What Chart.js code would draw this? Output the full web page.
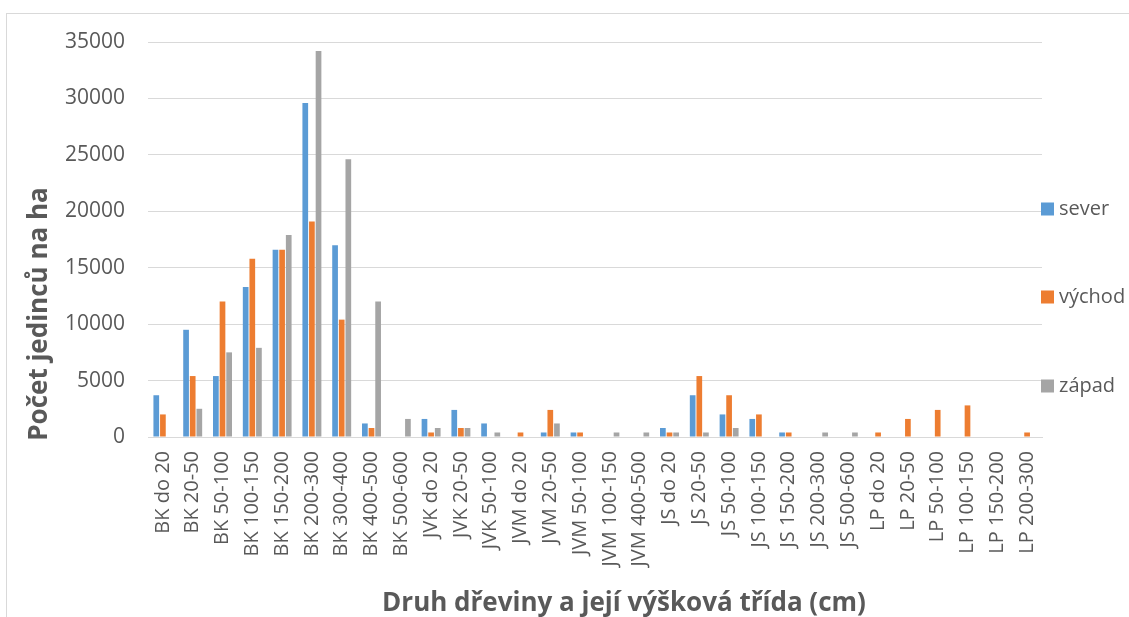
<!DOCTYPE html>
<html>
<head>
<meta charset="utf-8">
<script src="https://cdn.jsdelivr.net/npm/chart.js@4/dist/chart.umd.min.js"></script>
<style>
  html, body { margin: 0; padding: 0; background: #ffffff; }
  #wrap { position: relative; width: 1129px; height: 617px; }
  canvas { display: block; }
</style>
</head>
<body>
<div id="wrap"><canvas id="c" width="1129" height="617"></canvas></div>
<script>
const categories = ["BK do 20", "BK 20-50", "BK 50-100", "BK 100-150", "BK 150-200", "BK 200-300", "BK 300-400", "BK 400-500", "BK 500-600",
  "JVK do 20", "JVK 20-50", "JVK 50-100", "JVM do 20", "JVM 20-50", "JVM 50-100", "JVM 100-150", "JVM 400-500",
  "JS do 20", "JS 20-50", "JS 50-100", "JS 100-150", "JS 150-200", "JS 200-300", "JS 500-600",
  "LP do 20", "LP 20-50", "LP 50-100", "LP 100-150", "LP 150-200", "LP 200-300"];
const sever  = [3700, 9500, 5400, 13300, 16600, 29600, 17000, 1200, 0, 1600, 2400, 1200, 0, 400, 400, 0, 0, 800, 3700, 2000, 1600, 400, 0, 0, 0, 0, 0, 0, 0, 0];
const vychod = [2000, 5400, 12000, 15800, 16600, 19100, 10400, 800, 0, 400, 800, 0, 400, 2400, 400, 0, 0, 400, 5400, 3700, 2000, 400, 0, 0, 400, 1600, 2400, 2800, 0, 400];
const zapad  = [0, 2500, 7500, 7900, 17900, 34200, 24600, 12000, 1600, 800, 800, 400, 0, 1200, 0, 400, 400, 400, 400, 800, 0, 0, 400, 400, 0, 0, 0, 0, 0, 0];
const seriesNames = ["sever", "východ", "západ"];
const yTicks = [0, 5000, 10000, 15000, 20000, 25000, 30000, 35000];
const yTitle = "Počet jedinců na ha";
const xTitle = "Druh dřeviny a její výšková třída (cm)";

const colors = ["#5B9BD5", "#ED7D31", "#A5A5A5"];
const textColor = "#595959";
const gridColor = "#D9D9D9";

const decor = {
  id: "decor",
  beforeDraw(chart) {
    const ctx = chart.ctx;
    ctx.save();
    ctx.fillStyle = "#ffffff";
    ctx.fillRect(0, 0, chart.width, chart.height);
    ctx.strokeStyle = gridColor;
    ctx.lineWidth = 1;
    ctx.strokeRect(6.5, 13.5, 1400, 900);
    ctx.restore();
  },
  afterDraw(chart) {
    const ctx = chart.ctx;
    ctx.save();
    ctx.fillStyle = textColor;
    ctx.font = "bold 26px 'Open Sans'";
    ctx.textAlign = "center";
    ctx.textBaseline = "alphabetic";
    ctx.fillText(xTitle, 624, 611);
    ctx.translate(47, 314);
    ctx.rotate(-Math.PI / 2);
    ctx.fillText(yTitle, 0, 0);
    ctx.restore();
    ctx.save();
    const ys = [209, 297, 386];
    ctx.font = "20px 'Open Sans'";
    ctx.textAlign = "left";
    ctx.textBaseline = "middle";
    chart.data.datasets.forEach((ds, i) => {
      ctx.fillStyle = ds.backgroundColor;
      ctx.fillRect(1041, ys[i] - 6.5, 13, 13);
      ctx.fillStyle = textColor;
      ctx.fillText(ds.label, 1059, ys[i]);
    });
    ctx.restore();
  }
};

new Chart(document.getElementById("c"), {
  type: "bar",
  data: {
    labels: categories,
    datasets: [
      { label: seriesNames[0], data: sever, backgroundColor: colors[0] },
      { label: seriesNames[1], data: vychod, backgroundColor: colors[1] },
      { label: seriesNames[2], data: zapad, backgroundColor: colors[2] }
    ]
  },
  options: {
    responsive: false,
    animation: false,
    devicePixelRatio: 1,
    layout: { padding: { left: 0, top: 42, right: 87, bottom: 0 } },
    datasets: { bar: { categoryPercentage: 0.667, barPercentage: 0.86 } },
    plugins: { legend: { display: false }, tooltip: { enabled: false } },
    scales: {
      x: {
        grid: { display: false, drawTicks: false },
        border: { display: true, color: gridColor },
        ticks: {
          color: textColor,
          font: { family: "'Open Sans'", size: 20 },
          minRotation: 90, maxRotation: 90,
          autoSkip: false,
          padding: 14
        },
        afterFit(scale) { scale.height = 180; }
      },
      y: {
        min: 0, max: 35000,
        grid: { color: gridColor, lineWidth: 1, drawTicks: false },
        border: { display: false },
        afterBuildTicks(scale) { scale.ticks = yTicks.map(v => ({ value: v })); },
        ticks: {
          color: textColor,
          font: { family: "'Open Sans'", size: 21 },
          padding: 23,
          callback: (v) => String(v)
        },
        afterFit(scale) { scale.width = 148; }
      }
    }
  },
  plugins: [decor]
});
</script>
</body>
</html>
